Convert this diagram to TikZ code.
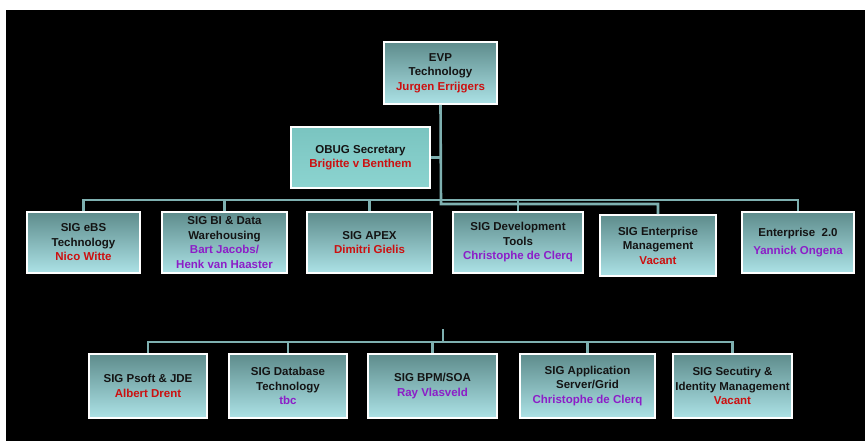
\documentclass[tikz,border=0pt]{standalone}
\usepackage{fontspec}
\setmainfont{Liberation Sans}
\definecolor{boxtop}{RGB}{94,140,140}
\definecolor{boxbottom}{RGB}{172,226,230}
\definecolor{obugtop}{RGB}{122,196,192}
\definecolor{obugbottom}{RGB}{140,212,208}
\definecolor{linkcol}{RGB}{126,176,176}
\definecolor{namered}{RGB}{204,16,16}
\definecolor{namepurple}{RGB}{140,30,200}
\definecolor{textdark}{RGB}{20,20,20}
\begin{document}
\begin{tikzpicture}[x=1pt, y=-1pt,
  font=\fontsize{11.5}{14.5}\selectfont\bfseries,
  box/.style={draw=white, line width=1.6pt, top color=boxtop, bottom color=boxbottom,
    text=textdark, align=center, inner sep=0pt},
  link/.style={draw=linkcol, line width=2.6pt}]
  \useasboundingbox (0,0) rectangle (865,441);
  \fill[white] (0,0) rectangle (865,441);
  \fill[black] (6,10) rectangle (865,441);
  % top
  \node[box, minimum width=113pt, minimum height=62pt] (evp) at (440.5,73)
    {EVP\\Technology\\\textcolor{namered}{Jurgen Errijgers}};
  \node[box, top color=obugtop, bottom color=obugbottom, minimum width=139pt, minimum height=61pt] (obug) at (360.5,157.5)
    {OBUG Secretary\\\textcolor{namered}{Brigitte v Benthem}};
  % first row
  \node[box, minimum width=113pt, minimum height=61pt] (ebs) at (83.5,242.5)
    {SIG eBS\\Technology\\\textcolor{namered}{Nico Witte}};
  \node[box, minimum width=125pt, minimum height=61pt] (bi) at (224.5,242.5)
    {SIG BI \& Data\\Warehousing\\\textcolor{namepurple}{Bart Jacobs/}\\\textcolor{namepurple}{Henk van Haaster}};
  \node[box, minimum width=125pt, minimum height=61pt] (apex) at (369.5,242.5)
    {SIG APEX\\\textcolor{namered}{Dimitri Gielis}};
  \node[box, minimum width=130pt, minimum height=61pt] (dev) at (518,242.5)
    {SIG Development\\Tools\\\textcolor{namepurple}{Christophe de Clerq}};
  \node[box, minimum width=116pt, minimum height=61pt] (mgmt) at (658,245.5)
    {SIG Enterprise\\Management\\\textcolor{namered}{Vacant}};
  \node[box, minimum width=112pt, minimum height=61pt] (ent) at (798,242.5)
    {Enterprise~~2.0\\[3pt]\textcolor{namepurple}{Yannick Ongena}};
  % second row
  \node[box, minimum width=118pt, minimum height=64pt] (psoft) at (148,386)
    {SIG Psoft \& JDE\\\textcolor{namered}{Albert Drent}};
  \node[box, minimum width=118pt, minimum height=64pt] (db) at (288,386)
    {SIG Database\\Technology\\\textcolor{namepurple}{tbc}};
  \node[box, minimum width=129pt, minimum height=64pt] (bpm) at (432.5,386)
    {SIG BPM/SOA\\\textcolor{namepurple}{Ray Vlasveld}};
  \node[box, minimum width=135pt, minimum height=64pt] (app) at (587.5,386)
    {SIG Application\\Server/Grid\\\textcolor{namepurple}{Christophe de Clerq}};
  \node[box, minimum width=119pt, minimum height=64pt] (sec) at (732.5,386)
    {SIG Secutiry \&\\Identity Management\\\textcolor{namered}{Vacant}};
  % connectors
  \coordinate (bus) at (0,200);
  \coordinate (hub) at (441,204);
  \coordinate (stub) at (443,329);
  \coordinate (bus2) at (0,342);
  \draw[link] (evp.south) -- (hub) -| (mgmt.north);
  \draw[link] (obug.east) -- (obug.east -| evp.south);
  \draw[link] (ebs.north) |- (ent.north |- bus) -- (ent.north);
  \foreach \n in {bi, apex, dev}
    \draw[link] (\n.north |- bus) -- (\n.north);
  \draw[link] (stub) -- (stub |- bus2);
  \draw[link] (psoft.north) |- (sec.north |- bus2) -- (sec.north);
  \foreach \n in {db, bpm, app}
    \draw[link] (\n.north |- bus2) -- (\n.north);
\end{tikzpicture}
\end{document}
